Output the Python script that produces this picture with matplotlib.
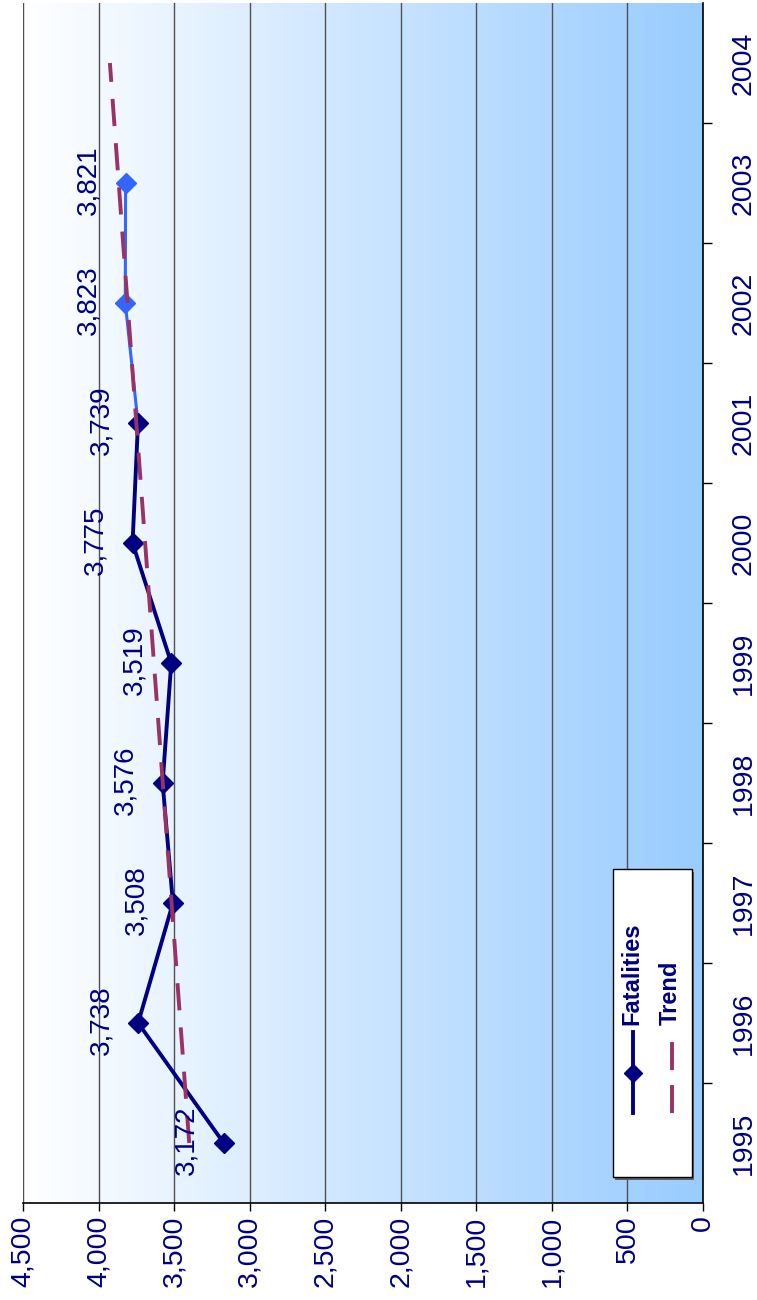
import numpy as np
import matplotlib
matplotlib.use("Agg")
import matplotlib.pyplot as plt
from matplotlib.colors import LinearSegmentedColormap
from matplotlib.patches import Rectangle

plt.rcParams['font.family'] = ['Liberation Sans', 'DejaVu Sans']

# data
years = [1995, 1996, 1997, 1998, 1999, 2000, 2001, 2002, 2003, 2004]
fat_years = [1995, 1996, 1997, 1998, 1999, 2000, 2001]
fat_vals = [3172, 3738, 3508, 3576, 3519, 3775, 3739]
prelim_years = [2002, 2003]
prelim_vals = [3823, 3821]
trend_years = [1995, 2004]
trend_vals = [3400, 3925]
value_ticks = [0, 500, 1000, 1500, 2000, 2500, 3000, 3500, 4000, 4500]

navy = '#000080'
light_blue = '#3366ff'
maroon = '#993366'

fig = plt.figure(figsize=(7.57, 13.0), dpi=100)
ax = fig.add_axes([23 / 757, 97 / 1300, 680 / 757, 1200 / 1300])

# background gradient (white -> light blue towards zero)
cmap = LinearSegmentedColormap.from_list('bg', ['#ffffff', '#99ccff'])
grad = np.linspace(0, 1, 256).reshape(1, -1)
ax.imshow(grad, cmap=cmap, extent=[0, 1, 0, 1], transform=ax.transAxes,
          aspect='auto', zorder=0)

ax.set_xlim(4500, 0)
ax.set_ylim(1994.5, 2004.5)

# gridlines
for v in value_ticks:
    ax.axvline(v, color='#505050', lw=1.0, zorder=1)

# series (values run along x, years along y)
ax.plot(fat_vals[-1:] + prelim_vals, fat_years[-1:] + prelim_years,
        color=light_blue, lw=2.2, zorder=3)
ax.plot(prelim_vals, prelim_years, ls='none', marker='D', ms=10.5,
        color=light_blue, mec=light_blue, zorder=4)
ax.plot(fat_vals, fat_years, color=navy, lw=2.8, marker='D', ms=10.5,
        mec=navy, zorder=4)
ax.plot(trend_vals, trend_years, color=maroon, lw=2.8,
        ls=(0, (7, 4.4)), zorder=5)

# data labels
for y, v in zip(fat_years + prelim_years, fat_vals + prelim_vals):
    ax.annotate(f'{v:,}', (v, y), xytext=(-26.5, 2), textcoords='offset points',
                rotation=90, ha='center', va='center', fontsize=20,
                color=navy, zorder=6)

# axes styling
for s in ['left', 'top']:
    ax.spines[s].set_visible(False)
for s in ['right', 'bottom']:
    ax.spines[s].set_color('black')
    ax.spines[s].set_linewidth(1.2)
    ax.spines[s].set_zorder(7)

ax.set_xticks(value_ticks)
ax.set_xticklabels([f'{v:,}' for v in value_ticks], rotation=90)
ax.tick_params(axis='x', direction='out', length=6, width=1, pad=3,
               labelsize=20.5, labelcolor=navy, color='black')

ax.yaxis.tick_right()
ax.set_yticks(years)
ax.set_yticklabels([str(y) for y in years], rotation=90, va='center', ha='left')
ax.set_yticks([y + 0.5 for y in years[:-1]], minor=True)
ax.tick_params(axis='y', which='major', length=0, pad=20, labelsize=20.5,
               labelcolor=navy)
ax.tick_params(axis='y', which='minor', direction='out', length=6.5, width=1,
               color='black')

# legend drawn by hand (rotated)
ax.add_patch(Rectangle((0.8706, 0.0192), 0.1162, 0.2566, transform=ax.transAxes,
                       facecolor='#606060', edgecolor='none', zorder=7))
ax.add_patch(Rectangle((0.8676, 0.0217), 0.1162, 0.2566, transform=ax.transAxes,
                       facecolor='white', edgecolor='black', lw=1, zorder=8))
ax.plot([0.897, 0.897], [0.075, 0.1425], transform=ax.transAxes, color=navy,
        lw=2.8, zorder=9)
ax.plot([0.897], [0.1083], transform=ax.transAxes, marker='D', ms=9,
        color=navy, zorder=9)
ax.plot([0.954, 0.954], [0.075, 0.134], transform=ax.transAxes, color=maroon,
        lw=2.8, ls=(0, (7.2, 3.85)), zorder=9)
ax.text(0.8956, 0.148, 'Fatalities', transform=ax.transAxes, rotation=90,
        ha='center', va='bottom', fontsize=17, fontweight='bold', color=navy,
        zorder=9)
ax.text(0.9515, 0.148, 'Trend', transform=ax.transAxes, rotation=90,
        ha='center', va='bottom', fontsize=17, fontweight='bold', color=navy,
        zorder=9)

fig.savefig('out.png', dpi=100)
